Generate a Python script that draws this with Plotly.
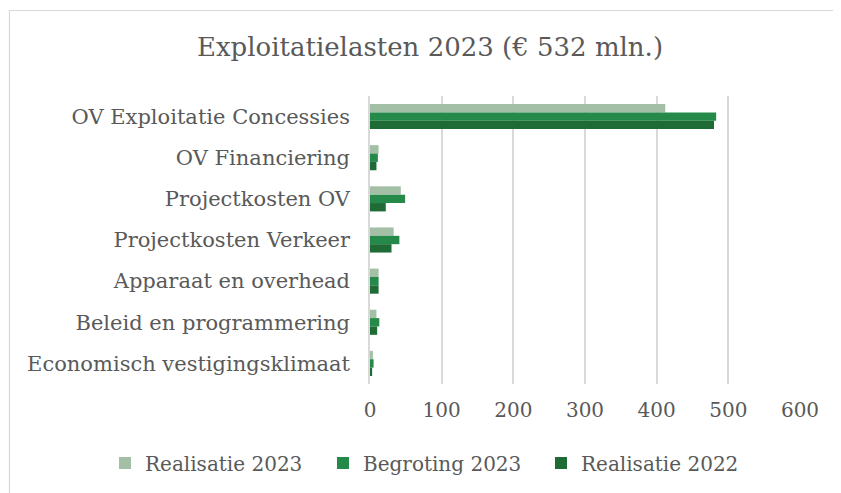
import plotly.graph_objects as go

categories = [
    "OV Exploitatie Concessies",
    "OV Financiering",
    "Projectkosten OV",
    "Projectkosten Verkeer",
    "Apparaat en overhead",
    "Beleid en programmering",
    "Economisch vestigingsklimaat",
]
realisatie_2023 = [412, 12, 43, 33, 12, 9, 4]
begroting_2023 = [483, 11, 49, 41, 12, 13, 5]
realisatie_2022 = [480, 9, 22, 30, 12, 10, 3]

series_names = ["Realisatie 2023", "Begroting 2023", "Realisatie 2022"]
series_colors = ["#A3BFA6", "#25894A", "#1E6B36"]
tick_vals = [0, 100, 200, 300, 400, 500, 600]

FONT = "DejaVu Serif"
TXT = "#595959"

fig = go.Figure()
for name, vals, col in zip(series_names, [realisatie_2023, begroting_2023, realisatie_2022], series_colors):
    fig.add_trace(go.Bar(
        y=categories, x=vals, name=name, orientation="h",
        marker=dict(color=col, line=dict(width=0)),
    ))

OFF = 8  # page body margin
W, H = 841 - OFF, 493 - OFF
# target page pixel positions
L_pg, R_pg, T_pg, B_pg = 370, 800, 96, 384
L, T = L_pg - OFF, T_pg - OFF
R = W - (R_pg - OFF)
B = H - (B_pg - OFF)
pw, ph = W - L - R, H - T - B

def px_x(x):
    return (x - OFF - L) / pw

def px_y(y):
    return 1 - (y - OFF - T) / ph

fig.update_layout(
    width=W, height=H,
    margin=dict(l=L, r=R, t=T, b=B, autoexpand=False),
    paper_bgcolor="white", plot_bgcolor="white",
    barmode="group", bargap=0.39, bargroupgap=0.0,
    font=dict(family=FONT, color=TXT, size=21),
    title=dict(text="Exploitatielasten 2023 (€ 532 mln.)", xref="container", x=(430 - OFF) / W,
               xanchor="center", yref="container", y=1 - (47 - OFF) / H, yanchor="middle",
               font=dict(family=FONT, size=26, color=TXT)),
    legend=dict(orientation="h", xref="paper", x=px_x(105), xanchor="left",
                yref="paper", y=px_y(463), yanchor="middle",
                font=dict(family=FONT, size=20, color=TXT), itemwidth=30,
                entrywidth=173, entrywidthmode="pixels",
                traceorder="normal"),
    xaxis=dict(range=[0, 600], tickvals=tick_vals, showgrid=True, gridcolor="#D9D9D9",
               gridwidth=1.5, zeroline=False, showline=False, ticks="",
               ticklabelstandoff=12, tickfont=dict(family=FONT, size=20, color=TXT)),
    yaxis=dict(autorange="reversed", showgrid=False, zeroline=False, showline=True,
               linecolor="#D9D9D9", linewidth=1.5, ticks="", ticklabelstandoff=14,
               tickfont=dict(family=FONT, size=21, color=TXT)),
    shapes=[dict(type="rect", xref="paper", yref="paper",
                 x0=px_x(9.5), x1=px_x(900), y0=px_y(600), y1=px_y(10.5),
                 line=dict(color="#D9D9D9", width=1.2), layer="below")],
)

fig.write_html("out.html")
